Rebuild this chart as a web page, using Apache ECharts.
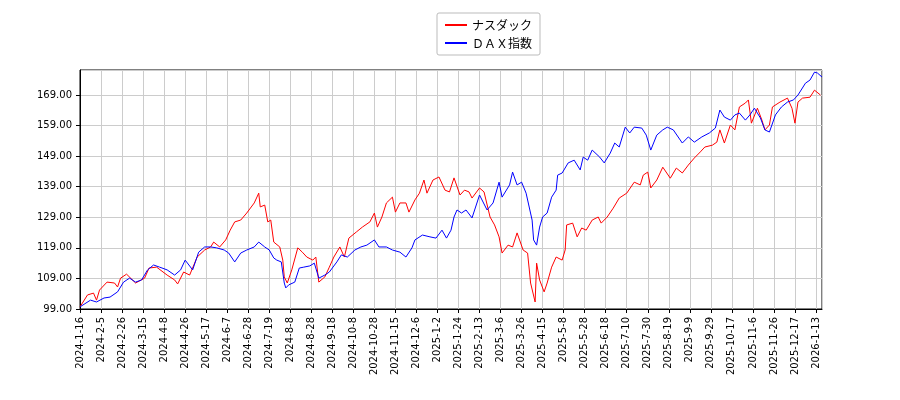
<!DOCTYPE html>
<html>
<head>
<meta charset="utf-8">
<script src="https://cdn.jsdelivr.net/npm/echarts@6/dist/echarts.min.js"></script>
<style>
  body { margin: 0; background: #fff; }
  #chart { width: 900px; height: 400px; }
</style>
</head>
<body>
<div id="chart"></div>
<script>
// x tick labels, one every 14 trading days
var dateLabels = ['2024-1-16','2024-2-5','2024-2-26','2024-3-15','2024-4-8','2024-4-26','2024-5-17','2024-6-7',
  '2024-6-28','2024-7-19','2024-8-8','2024-8-28','2024-9-18','2024-10-8','2024-10-28','2024-11-15','2024-12-6',
  '2025-1-2','2025-1-24','2025-2-13','2025-3-6','2025-3-26','2025-4-15','2025-5-8','2025-5-28','2025-6-18',
  '2025-7-10','2025-7-30','2025-8-19','2025-9-9','2025-9-29','2025-10-17','2025-11-6','2025-11-26','2025-12-17','2026-1-13'];

// trading day index and value
var nasdaqDay = [0,5,9,11,13,18,23,25,27,31,37,43,46,51,58,63,65,69,73,78,83,87,89,93,97,100,103,107,111,116,119,120,123,125,127,129,
  133,135,136,138,141,145,148,151,155,157,159,163,166,169,173,176,179,184,188,193,196,198,201,204,208,210,213,217,219,223,226,229,231,
  235,239,243,246,249,253,256,259,261,266,269,273,276,279,281,285,288,291,295,298,300,303,304,306,309,311,314,317,321,323,324,328,331,
  334,337,341,345,347,351,355,359,364,369,373,375,378,380,384,388,393,397,401,405,409,413,416,421,424,426,429,433,436,439,443,445,447,
  451,454,456,459,461,466,471,474,476,478,481,486,489,493];
var nasdaqVal = [99.7,103.6,104.2,101.9,105.2,107.8,107.5,106.2,109.1,110.4,107.5,109.1,112.4,112.7,110.1,108.5,107.2,111.1,110.1,116.0,
  118.3,119.3,120.9,119.3,121.6,124.8,127.5,128.1,130.4,133.7,136.9,132.4,133.0,127.5,128.1,120.9,
  119.3,115.0,109.5,107.5,111.8,119.0,117.6,116.0,115.0,116.0,107.8,109.5,112.7,116.0,119.3,116.0,122.2,124.2,125.8,127.5,130.4,125.8,
  129.1,133.7,135.6,130.7,133.7,133.7,130.7,134.7,136.9,141.2,136.9,
  141.2,142.2,137.9,137.3,141.9,136.3,137.9,137.3,135.3,138.6,137.3,129.1,126.5,122.6,117.3,119.9,119.3,123.9,118.3,117.3,107.5,101.3,
  114.0,108.5,104.6,107.5,112.7,116.0,115.0,118.3,126.5,127.1,122.6,
  125.5,124.8,128.1,129.1,127.1,129.1,132.0,135.3,136.9,140.5,139.6,142.8,143.8,138.6,141.2,145.4,141.8,145.1,143.5,146.1,148.4,150.4,
  152.0,152.6,153.6,157.6,153.3,159.2,157.6,165.1,166.4,167.4,159.8,
  164.7,160.8,157.6,159.2,165.1,166.7,168.0,164.7,159.8,166.7,168.0,168.3,170.6,169.0];

var daxDay = [0,7,11,16,20,25,29,33,37,41,45,49,53,58,63,67,70,75,79,83,87,91,96,99,103,107,111,116,119,123,126,129,131,134,136,137,
  139,143,146,149,153,156,159,163,166,171,174,178,183,187,191,196,199,204,208,213,217,221,223,228,233,237,241,244,247,249,251,254,257,
  261,266,271,275,279,281,286,288,291,294,297,301,302,304,306,308,311,314,317,318,321,325,329,333,335,338,341,346,349,353,356,359,363,
  366,369,374,377,380,384,388,391,395,401,405,409,414,419,423,426,429,433,436,439,443,446,449,453,456,459,463,467,471,475,478,483,486,
  489,491,494];
var daxVal = [99.7,101.9,101.3,102.6,102.9,104.6,107.8,109.1,107.8,108.5,111.8,113.4,112.7,111.8,110.1,111.8,115.0,111.8,117.6,119.3,
  119.3,119.0,118.3,117.3,114.4,117.3,118.3,119.3,120.9,119.3,118.3,115.7,115.0,114.4,107.5,105.9,
  106.9,107.8,112.4,112.7,113.1,114.0,109.1,110.1,111.1,114.4,116.7,116.0,118.3,119.3,119.9,121.6,119.3,119.3,118.3,117.6,116.0,119.0,
  121.6,123.2,122.6,122.2,124.8,122.2,124.8,129.1,131.4,130.4,131.4,
  128.8,136.3,131.4,133.7,140.5,135.6,139.6,143.8,139.6,140.5,136.9,128.1,121.6,119.9,125.8,129.1,130.4,135.6,137.9,142.8,143.5,146.8,
  147.7,144.5,148.7,147.7,151.0,148.7,146.8,150.0,153.3,152.0,158.5,
  156.6,158.5,158.2,155.9,151.0,155.9,157.6,158.5,157.6,153.3,155.3,153.6,155.3,156.6,158.2,164.1,161.8,160.8,162.5,163.1,160.8,162.5,
  164.7,161.5,157.6,156.9,162.5,165.1,166.7,167.4,169.0,172.9,173.9,
  176.5,176.2,174.9];

var yTicks = { min: 99, max: 177.2, interval: 10 };

function pairs(days, vals) {
  var out = [];
  for (var i = 0; i < days.length; i++) out.push([days[i], vals[i]]);
  return out;
}

var chart = echarts.init(document.getElementById('chart'));
chart.setOption({
  animation: false,
  textStyle: { fontFamily: 'DejaVu Sans' },
  legend: {
    orient: 'vertical',
    left: 437, top: 13,
    padding: [6, 8, 6, 8],
    itemGap: 6,
    itemWidth: 22, itemHeight: 2,
    borderColor: '#bbb', borderWidth: 1, borderRadius: 2,
    backgroundColor: '#fff',
    textStyle: { fontSize: 12, color: '#000', fontFamily: 'Noto Sans CJK JP' },
    data: [
      { name: 'ナスダック', icon: 'rect' },
      { name: 'ＤＡＸ指数', icon: 'rect' }
    ]
  },
  grid: { left: 80, right: 78, top: 70, bottom: 91, show: true, borderColor: '#000', borderWidth: 1 },
  xAxis: {
    type: 'value', min: 0, max: 494, interval: 14,
    axisLine: { lineStyle: { color: '#000' } },
    axisTick: { show: true, length: 4, lineStyle: { color: '#000' } },
    splitLine: { show: true, lineStyle: { color: '#ccc' } },
    axisLabel: {
      rotate: 90, fontSize: 10, color: '#000', showMaxLabel: false,
      formatter: function (v) { var k = Math.round(v / 14); return v % 14 === 0 && dateLabels[k] ? dateLabels[k] : ''; }
    }
  },
  yAxis: {
    type: 'value', min: yTicks.min, max: yTicks.max, interval: yTicks.interval,
    axisLine: { show: true, lineStyle: { color: '#000' } },
    axisTick: { show: true, length: 4, lineStyle: { color: '#000' } },
    splitLine: { show: true, lineStyle: { color: '#ccc' } },
    axisLabel: {
      fontSize: 10, color: '#000', showMaxLabel: false,
      formatter: function (v) { return v.toFixed(2); }
    }
  },
  series: [
    { name: 'ナスダック', type: 'line', data: pairs(nasdaqDay, nasdaqVal), showSymbol: false,
      color: '#ff0000', lineStyle: { width: 1 } },
    { name: 'ＤＡＸ指数', type: 'line', data: pairs(daxDay, daxVal), showSymbol: false,
      color: '#0000ff', lineStyle: { width: 1 } }
  ]
});
</script>
</body>
</html>
